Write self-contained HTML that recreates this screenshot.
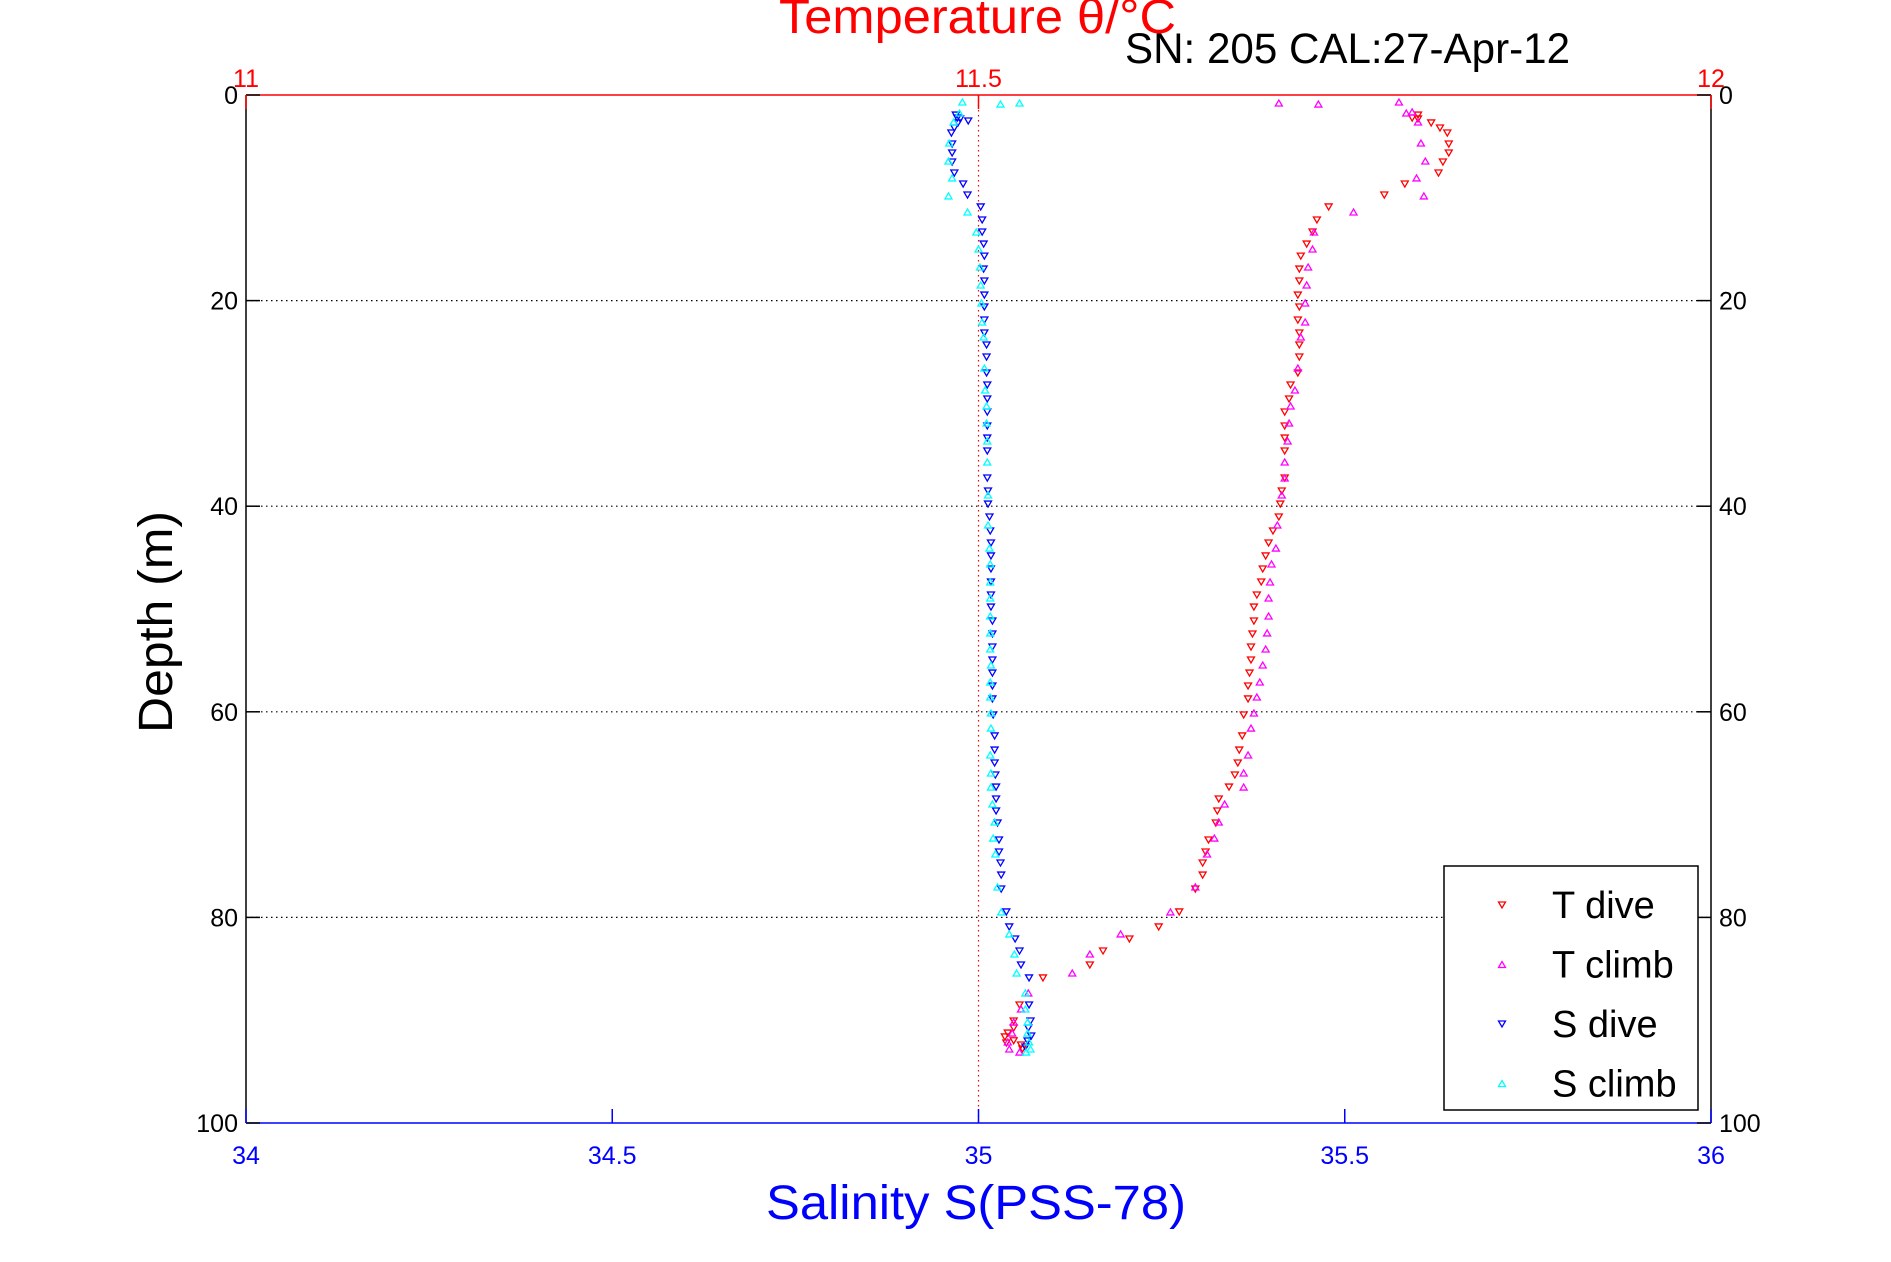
<!DOCTYPE html>
<html><head><meta charset="utf-8"><title>Temperature and salinity profile</title>
<style>
html,body{margin:0;padding:0;background:#fff;}
svg{display:block;font-family:"Liberation Sans",Arial,sans-serif;}
</style></head>
<body>
<svg id="chart" width="1891" height="1262" viewBox="0 0 1891 1262" xmlns="http://www.w3.org/2000/svg">
  <rect x="0" y="0" width="1891" height="1262" fill="#fff"/>
  <g id="grid"></g>
  <g id="marks"></g>
  <g id="axes"></g>
  <text x="779" y="33" font-size="48" fill="#ff0000" textLength="397" lengthAdjust="spacingAndGlyphs">Temperature θ/°C</text>
  <text x="1125" y="63" font-size="43" fill="#000" textLength="445" lengthAdjust="spacingAndGlyphs">SN: 205  CAL:27-Apr-12</text>
  <text x="976" y="1219" font-size="48" fill="#0000ff" text-anchor="middle" textLength="420" lengthAdjust="spacingAndGlyphs">Salinity S(PSS-78)</text>
  <text transform="translate(172,622) rotate(-90)" font-size="48" fill="#000" text-anchor="middle" textLength="222" lengthAdjust="spacingAndGlyphs">Depth (m)</text>
  <g id="legend"></g>
</svg>
<script>
const salTicks = [34, 34.5, 35, 35.5, 36];
const salTickLabels = ["34", "34.5", "35", "35.5", "36"];
const tempTicks = [11, 11.5, 12];
const tempTickLabels = ["11", "11.5", "12"];
const depthTicks = [0, 20, 40, 60, 80, 100];
const depthTickLabels = ["0", "20", "40", "60", "80", "100"];

const tDiveDepth = [1.95,2.24,2.33,2.72,3.21,3.70,4.77,5.64,6.52,7.59,8.66,9.73,10.89,12.16,13.33,14.5,15.67,16.93,18.09,19.46,20.62,21.89,23.15,24.32,25.49,27.04,28.21,29.57,30.84,32.2,33.37,34.63,37.26,38.52,39.79,41.05,42.41,43.58,44.84,46.11,47.37,48.64,49.81,51.17,52.43,53.7,54.96,56.23,57.49,58.75,60.31,62.35,63.72,64.98,66.15,67.32,68.48,69.65,70.82,72.47,73.64,74.71,75.88,77.24,79.47,80.93,82.1,83.27,84.63,85.89,88.52,90.08,90.76,91.25,91.63,92.0,92.22,92.41,92.8];
const tDiveTemp = [11.800,11.796,11.800,11.809,11.815,11.820,11.821,11.821,11.817,11.814,11.791,11.777,11.739,11.731,11.728,11.724,11.720,11.719,11.719,11.718,11.719,11.718,11.719,11.719,11.719,11.718,11.713,11.712,11.709,11.709,11.709,11.709,11.709,11.707,11.706,11.705,11.701,11.698,11.696,11.694,11.693,11.690,11.688,11.688,11.687,11.686,11.686,11.685,11.684,11.684,11.681,11.680,11.678,11.677,11.675,11.671,11.664,11.663,11.662,11.657,11.655,11.653,11.653,11.648,11.637,11.623,11.603,11.585,11.576,11.544,11.528,11.524,11.524,11.520,11.518,11.524,11.519,11.529,11.530];

const tClimbDepth = [0.78,0.88,0.68,1.75,1.65,2.63,4.67,6.42,8.07,9.82,11.38,13.33,14.98,16.73,18.48,20.23,22.08,23.54,26.56,28.7,30.25,31.91,33.66,35.7,37.26,38.91,41.83,44.07,45.62,47.37,48.93,50.68,52.33,53.89,55.45,57.1,58.56,60.12,61.58,64.2,65.95,67.32,68.97,70.72,72.28,73.83,77.04,79.47,81.61,83.56,85.41,87.35,88.91,90.18,91.25,92.12,92.8,93.1];
const tClimbTemp = [11.705,11.732,11.787,11.792,11.796,11.800,11.802,11.805,11.799,11.804,11.756,11.729,11.728,11.725,11.724,11.723,11.723,11.720,11.718,11.716,11.713,11.712,11.711,11.709,11.709,11.707,11.704,11.703,11.700,11.699,11.698,11.698,11.697,11.696,11.694,11.692,11.690,11.688,11.686,11.684,11.681,11.681,11.668,11.664,11.661,11.656,11.648,11.631,11.597,11.576,11.564,11.534,11.529,11.524,11.523,11.520,11.521,11.528];

const sDiveDepth = [1.95,2.24,2.33,2.53,2.72,3.21,3.70,4.77,5.64,6.52,7.59,8.66,9.73,10.89,12.16,13.33,14.5,15.67,16.93,18.09,19.46,20.62,21.89,23.15,24.32,25.49,27.04,28.21,29.57,30.84,32.2,33.37,34.63,37.26,38.52,39.79,41.05,42.41,43.58,44.84,46.11,47.37,48.64,49.81,51.17,52.43,53.7,54.96,56.23,57.49,58.75,60.31,62.35,63.72,64.98,66.15,67.32,68.48,69.65,70.82,72.47,73.64,74.71,75.88,77.24,79.47,80.93,82.1,83.27,84.63,85.89,88.52,90.08,90.76,91.54,92.02,92.61];
const sDiveSal = [34.969,34.971,34.975,34.986,34.972,34.967,34.963,34.964,34.964,34.964,34.967,34.979,34.985,35.003,35.005,35.005,35.007,35.008,35.007,35.008,35.008,35.008,35.008,35.008,35.011,35.011,35.011,35.012,35.012,35.012,35.012,35.012,35.012,35.012,35.013,35.013,35.015,35.016,35.017,35.017,35.017,35.017,35.017,35.017,35.019,35.019,35.019,35.019,35.019,35.019,35.019,35.020,35.022,35.022,35.022,35.023,35.024,35.024,35.024,35.026,35.028,35.028,35.030,35.031,35.031,35.038,35.042,35.050,35.056,35.058,35.069,35.069,35.071,35.068,35.072,35.067,35.064];

const sClimbDepth = [0.68,0.88,0.78,1.75,2.63,4.67,6.42,8.07,9.82,11.38,13.33,14.98,16.73,18.48,20.23,22.08,23.54,26.56,28.7,30.25,31.91,33.66,35.7,38.91,41.83,44.07,45.62,47.37,48.93,50.68,52.33,53.89,55.45,57.1,58.56,60.12,61.58,64.2,65.95,67.32,68.97,70.72,72.28,73.83,77.04,79.47,81.61,83.56,85.41,87.35,88.91,90.18,91.25,92.12,92.8,93.1];
const sClimbSal = [34.978,35.030,35.056,34.974,34.966,34.960,34.959,34.964,34.959,34.985,34.997,35.000,35.002,35.003,35.004,35.005,35.007,35.008,35.009,35.011,35.011,35.012,35.012,35.013,35.013,35.015,35.016,35.016,35.016,35.016,35.016,35.016,35.017,35.016,35.016,35.017,35.017,35.016,35.017,35.017,35.019,35.022,35.020,35.023,35.026,35.031,35.042,35.049,35.052,35.064,35.064,35.067,35.067,35.069,35.071,35.065];

const legendLabels = ["T dive", "T climb", "S dive", "S climb"];

const NS = "http://www.w3.org/2000/svg";
const L = 246, R = 1711, T = 95, B = 1123;
const xSal = s => L + (s - 34) / 2 * (R - L);
const xTemp = t => L + (t - 11) / 1 * (R - L);
const yDep = d => T + d / 100 * (B - T);

function mk(tag, attrs, parent) {
  const e = document.createElementNS(NS, tag);
  for (const k in attrs) e.setAttribute(k, attrs[k]);
  parent.appendChild(e);
  return e;
}
const grid = document.getElementById('grid');
const axes = document.getElementById('axes');
const marks = document.getElementById('marks');
const legend = document.getElementById('legend');

depthTicks.forEach((d, i) => {
  if (d === 0 || d === 100) return;
  const g = mk('line', {x1: L, x2: R, y1: yDep(d), y2: yDep(d), stroke: '#000', 'stroke-width': 1.2, 'stroke-dasharray': '1.5 3.5'}, grid);
  
  
});
const vg = mk('line', {x1: xTemp(11.5), x2: xTemp(11.5), y1: T, y2: B, stroke: '#ff0000', 'stroke-width': 1.2, 'stroke-dasharray': '1.5 3.5'}, grid);



let a;
a = mk('line', {x1: L, x2: L, y1: T, y2: B, stroke: '#000', 'stroke-width': 1.5}, axes);
 
a = mk('line', {x1: R, x2: R, y1: T, y2: B, stroke: '#000', 'stroke-width': 1.5}, axes);
 
a = mk('line', {x1: L, x2: R, y1: T, y2: T, stroke: '#ff0000', 'stroke-width': 1.5}, axes);
 
a = mk('line', {x1: L, x2: R, y1: B, y2: B, stroke: '#0000ff', 'stroke-width': 1.5}, axes);
 

depthTicks.forEach((d, i) => {
  const y = yDep(d);
  mk('line', {x1: L, x2: L + 14, y1: y, y2: y, stroke: '#000', 'stroke-width': 1.5}, axes);
  mk('line', {x1: R, x2: R - 14, y1: y, y2: y, stroke: '#000', 'stroke-width': 1.5}, axes);
  const t1 = mk('text', {x: L - 8, y: y + 9, 'font-size': 25, 'text-anchor': 'end', fill: '#000'}, axes);
  t1.textContent = depthTickLabels[i];
  
  
  const t2 = mk('text', {x: R + 8, y: y + 9, 'font-size': 25, 'text-anchor': 'start', fill: '#000'}, axes);
  t2.textContent = depthTickLabels[i];
  
  
});
salTicks.forEach((s, i) => {
  const x = xSal(s);
  mk('line', {x1: x, x2: x, y1: B, y2: B - 14, stroke: '#0000ff', 'stroke-width': 1.5}, axes);
  const t = mk('text', {x: x, y: 1178 - 14, 'font-size': 25, 'text-anchor': 'middle', fill: '#0000ff'}, axes);
  t.textContent = salTickLabels[i];
  
  
});
tempTicks.forEach((v, i) => {
  const x = xTemp(v);
  mk('line', {x1: x, x2: x, y1: T, y2: T + 14, stroke: '#ff0000', 'stroke-width': 1.5}, axes);
  const t = mk('text', {x: x, y: 87, 'font-size': 25, 'text-anchor': 'middle', fill: '#ff0000'}, axes);
  t.textContent = tempTickLabels[i];
  
  
});

function tri(x, y, down, color, parent) {
  const d = down
    ? `M${x-3.5},${y-3} L${x+3.5},${y-3} L${x},${y+3} Z`
    : `M${x-3.5},${y+3} L${x+3.5},${y+3} L${x},${y-3} Z`;
  return mk('path', {d: d, fill: 'none', stroke: color, 'stroke-width': 1.3}, parent);
}
tDiveTemp.forEach((v, i) => {
  const p = tri(xTemp(v), yDep(tDiveDepth[i]), true, '#ff0000', marks);
  
  
});
tClimbTemp.forEach((v, i) => {
  const p = tri(xTemp(v), yDep(tClimbDepth[i]), false, '#ff00ff', marks);
  
  
});
sDiveSal.forEach((v, i) => {
  const p = tri(xSal(v), yDep(sDiveDepth[i]), true, '#0000ff', marks);
  
  
});
sClimbSal.forEach((v, i) => {
  const p = tri(xSal(v), yDep(sClimbDepth[i]), false, '#00ffff', marks);
  
  
});

const lb = mk('rect', {x: 1444, y: 866, width: 254, height: 244, fill: '#fff', stroke: '#000', 'stroke-width': 1.5}, legend);


const legColors = ['#ff0000', '#ff00ff', '#0000ff', '#00ffff'];
const legDown = [true, false, true, false];
legendLabels.forEach((lab, i) => {
  const y = 905 + i * 59.5;
  const g = mk('g', {}, legend);
  
  
  tri(1502, y, legDown[i], legColors[i], g);
  const t = mk('text', {x: 1552, y: y + 13, 'font-size': 38, fill: '#000'}, g);
  t.textContent = lab;
});
</script>
</body></html>
